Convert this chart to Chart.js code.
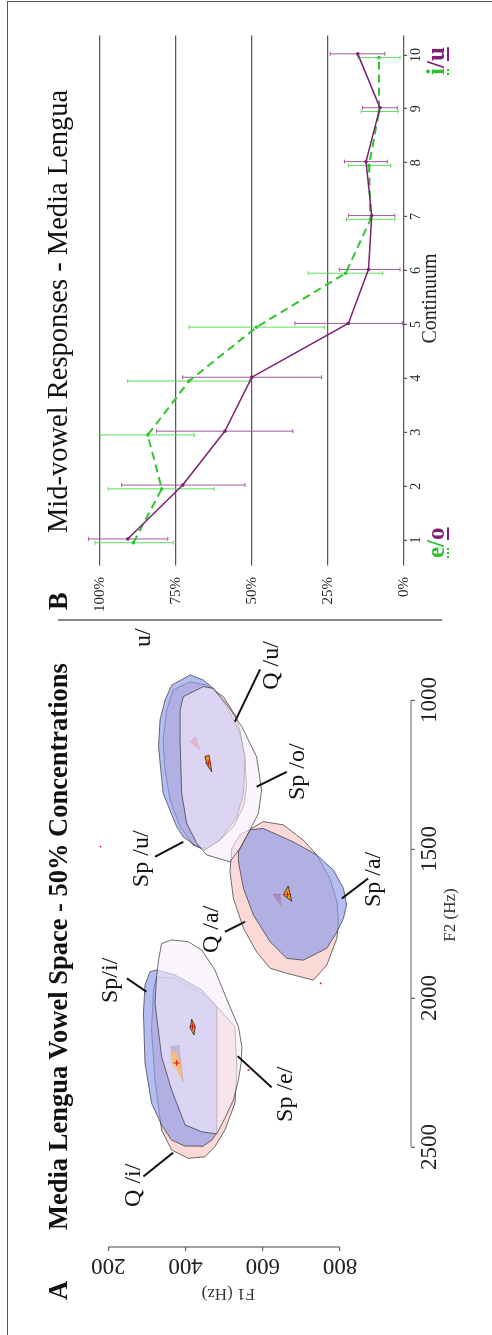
<!DOCTYPE html>
<html>
<head>
<meta charset="utf-8">
<title>Media Lengua vowel space and mid-vowel responses</title>
<script src="https://cdn.jsdelivr.net/npm/chart.js@4.4.1/dist/chart.umd.min.js"></script>
<style>
  html, body { margin:0; padding:0; background:#fff; width:492px; height:1335px; overflow:hidden; }
  #land { position:absolute; left:0; top:0; width:1335px; height:492px; transform-origin:0 0;
          transform:translateY(1335px) rotate(-90deg); background:#fff;
          font-family:"Liberation Serif","Times New Roman",serif; color:#111; }
  .frame { position:absolute; left:-10px; top:6.5px; width:1343.5px; height:520px;
           border-top:1.5px solid #555; border-right:1.5px solid #555; box-sizing:border-box; }
  .divider { position:absolute; left:714px; top:58px; width:1.5px; height:384px; background:#888; }
  .txt { position:absolute; white-space:nowrap; line-height:1; }
  canvas { position:absolute; top:0; }
  .dot { text-decoration-line:underline; text-decoration-style:dotted; text-decoration-thickness:2px; text-underline-offset:3px; }
  .sol { text-decoration-line:underline; text-decoration-style:solid; text-decoration-thickness:2px; text-underline-offset:3px; }
</style>
</head>
<body>
<div id="land">
  <div class="frame"></div>
  <div class="divider"></div>
  <canvas id="cA" width="760" height="492" style="left:0;width:760px;height:492px"></canvas>
  <canvas id="cB" width="620" height="492" style="left:715px;width:620px;height:492px"></canvas>

  <div class="txt" style="left:35px;top:44.8px;font-size:26.5px;font-weight:bold">A</div>
  <div class="txt" style="left:105px;top:44.8px;font-size:26.5px;font-weight:bold">Media Lengua Vowel Space - 50% Concentrations</div>
  <div class="txt" style="left:725px;top:44.8px;font-size:26.5px;font-weight:bold">B</div>
  <div class="txt" style="left:802px;top:44.1px;font-size:28.5px;">Mid-vowel Responses - Media Lengua</div>

  <div class="txt" style="left:777px;top:423px;font-size:25px;font-weight:bold">
    <span class="dot" style="color:#2fbf2f;text-decoration-color:#2fbf2f">e</span><span style="color:#2fbf2f">/</span><span class="sol" style="color:#7d1f72;text-decoration-color:#7d1f72">o</span>
  </div>
  <div class="txt" style="left:1260px;top:423px;font-size:25px;font-weight:bold">
    <span class="dot" style="color:#2fbf2f;text-decoration-color:#2fbf2f">i</span><span style="color:#7d1f72">/</span><span class="sol" style="color:#7d1f72;text-decoration-color:#7d1f72">u</span>
  </div>
</div>

<script>
const SERIF = '"Liberation Serif", "Times New Roman", serif';

// ================= Panel A data (F2 Hz, F1 Hz) =================
const F2_TICKS = [1000, 1500, 2000, 2500];
const F1_TICKS = [200, 400, 600, 800];

// Quichua (Q) 50% regions
const Q_I = [[1929,325],[1934,373],[1984,442],[2029,481],[2096,528],[2242,533],[2353,528],[2443,502],[2499,476],[2533,450],[2538,407],[2510,364],[2443,338],[2275,321],[2107,312],[1973,317]];
const Q_A = [[1431,571],[1408,601],[1419,653],[1470,705],[1520,740],[1599,774],[1677,792],[1744,796],[1800,792],[1889,766],[1940,731],[1917,662],[1900,619],[1845,584],[1766,550],[1666,524],[1576,515],[1498,520],[1453,541]];
const Q_U = [[966,368],[939,412],[950,455],[989,498],[1050,528],[1101,541],[1201,554],[1291,558],[1358,550],[1425,524],[1470,489],[1498,455],[1487,420],[1425,386],[1336,360],[1235,347],[1134,342],[1034,351]];
// Spanish (Sp) 50% regions
const SP_I = [[1912,308],[1906,325],[1923,373],[1973,442],[2029,481],[2453,481],[2477,468],[2500,442],[2497,399],[2477,364],[2426,338],[2353,312],[2218,295],[2050,291],[1956,295]];
const SP_A = [[1509,537],[1436,567],[1431,601],[1476,679],[1520,740],[1571,783],[1632,809],[1688,817],[1733,809],[1778,792],[1833,766],[1873,705],[1867,662],[1811,619],[1722,576],[1632,550],[1543,537]];
const SP_U = [[950,364],[916,412],[933,446],[961,472],[1022,507],[1111,541],[1190,554],[1313,550],[1392,533],[1470,489],[1503,450],[1492,429],[1459,394],[1425,377],[1313,342],[1157,330],[1067,334],[1000,347]];
const SP_E = [[1817,338],[1805,364],[1811,407],[1839,442],[1906,476],[2017,511],[2096,537],[2164,546],[2218,544],[2275,537],[2342,524],[2403,502],[2456,481],[2449,442],[2426,399],[2309,364],[2197,338],[2017,321],[1929,325],[1873,330]];
const SP_O = [[989,394],[955,446],[961,472],[1022,511],[1090,546],[1190,584],[1302,597],[1380,589],[1436,567],[1497,541],[1543,515],[1520,455],[1481,429],[1414,403],[1313,390],[1145,386],[1034,386]];
// Media Lengua small 50% regions
const ML_I_PALE = [[2164,360],[2158,383],[2281,394]];
const ML_I_BLOB = [[2185,362],[2177,373],[2208,386],[2275,393],[2242,377],[2218,364]];
const ML_I_CORE = [[2071,416],[2096,425],[2124,422],[2101,412]];
const ML_U_PALE = [[1140,412],[1123,425],[1168,438]];
const ML_U_CORE = [[1190,450],[1185,461],[1241,468],[1218,456]];
const ML_A_PALE = [[1654,627],[1652,645],[1690,647]];
const ML_A_CORE = [[1654,653],[1624,666],[1675,675]];
const ML_MEANS = [[2218,377],[2096,418],[1212,459],[1653,664]];
const STRAY = [[1492,180],[1951,750],[2242,563]];

// labels with leader lines (data coordinates)
const A_LABELS = [
  {text:'Q /i/',  at:[2701,282], lead:[[2599,291],[2519,368]]},
  {text:'Sp /e/', at:[2416,676], lead:[[2195,535],[2300,623]]},
  {text:'Sp/i/',  at:[2017,222], lead:[[1934,248],[1979,299]]},
  {text:'Q /a/',  at:[1849,485], lead:[[1778,502],[1744,554]]},
  {text:'Sp /u/', at:[1628,303], lead:[[1526,321],[1476,394]]},
  {text:'Sp /o/', at:[1336,707], lead:[[1291,584],[1241,662]]},
  {text:'Q /u/',  at:[966,640],  lead:[[1073,528],[897,593]]},
  {text:'Sp /a/', at:[1695,904], lead:[[1666,805],[1599,873]]},
  {text:'u/',     at:[822,308]}
];

// ================= Panel B data =================
const CONTINUUM = [1,2,3,4,5,6,7,8,9,10];
const PCT_TICKS = [0,25,50,75,100];
const MID_O     = [90.9, 72.8, 58.9, 50.1, 18.3, 11.7, 10.6, 12.5, 7.9, 15.2];
const MID_O_LO  = [77.7, 52.3, 36.6, 27.1, 0.5, 1.3, 3.0, 5.5, 2.2, 6.3];
const MID_O_HI  = [103.8, 92.9, 81.4, 72.8, 35.9, 21.3, 18.3, 19.6, 13.6, 24.3];
const MID_E     = [89.0, 79.7, 84.3, 70.7, 48.5, 19.2, 11.0, 11.5, 8.2, 8.2];
const MID_E_LO  = [75.9, 62.4, 69.0, 50.7, 26.2, 7.0, 3.0, 4.4, 1.9, 1.3];
const MID_E_HI  = [101.6, 97.3, 100, 90.9, 70.7, 31.5, 18.9, 18.3, 14.1, 15.2];

// ================= styles =================
const PINK  = 'rgba(245,185,180,0.55)';
const BLUE  = 'rgba(140,155,235,0.65)';
const LIGHT = 'rgba(246,236,252,0.6)';
const EDGE  = 'rgba(55,55,55,0.9)';
const PURPLE = '#7d1f72', PURPLE_ERR = '#a05a98';
const GREEN = '#2fc42f', GREEN_ERR = '#5ede5e';

Chart.defaults.font.family = SERIF;

function poly(pts) {
  const d = pts.map(p => ({x:p[0], y:p[1]}));
  d.push({x:pts[0][0], y:pts[0][1]});
  return d;
}
function polyDS(pts, bg, edge, bw) {
  return {data: poly(pts), showLine:true, fill:'shape', backgroundColor:bg, borderColor:edge,
          borderWidth:bw, pointRadius:0, pointHoverRadius:0, tension:0};
}
const fixTicks = vals => (s => { s.ticks = vals.map(v => ({value:v})); });
const plain = v => String(v);

// R-style axis lines spanning only the tick range
const rAxes = {
  id:'rAxes',
  afterDraw(chart) {
    const cfg = chart.config.options._rAxes;
    if (!cfg) return;
    const {ctx, chartArea} = chart;
    ctx.save();
    ctx.strokeStyle = '#666'; ctx.lineWidth = 1.2;
    cfg.forEach(l => {
      const s = chart.scales[l.axis];
      ctx.beginPath();
      if (l.axis === 'x') {
        ctx.moveTo(s.getPixelForValue(l.from), chartArea.bottom);
        ctx.lineTo(s.getPixelForValue(l.to), chartArea.bottom);
      } else {
        ctx.moveTo(chartArea.left, s.getPixelForValue(l.from));
        ctx.lineTo(chartArea.left, s.getPixelForValue(l.to));
      }
      ctx.stroke();
    });
    ctx.restore();
  }
};

const annot = {
  id:'annot',
  afterDatasetsDraw(chart) {
    if (chart.canvas.id !== 'cA') return;
    const {ctx} = chart; const xs = chart.scales.x, ys = chart.scales.y;
    ctx.save();
    ctx.strokeStyle = '#111'; ctx.fillStyle = '#111'; ctx.lineWidth = 2;
    ctx.font = '24px ' + SERIF; ctx.textAlign = 'left'; ctx.textBaseline = 'alphabetic';
    A_LABELS.forEach(it => {
      if (it.lead) {
        ctx.beginPath();
        ctx.moveTo(xs.getPixelForValue(it.lead[0][0]), ys.getPixelForValue(it.lead[0][1]));
        ctx.lineTo(xs.getPixelForValue(it.lead[1][0]), ys.getPixelForValue(it.lead[1][1]));
        ctx.stroke();
      }
      ctx.fillText(it.text, xs.getPixelForValue(it.at[0]), ys.getPixelForValue(it.at[1]));
    });
    ctx.restore();
  }
};

// ---------- Chart A ----------
const layersA = [
  polyDS(Q_A, PINK, EDGE, 0.8), polyDS(Q_I, PINK, EDGE, 0.8), polyDS(Q_U, PINK, EDGE, 0.8),
  polyDS(SP_A, BLUE, EDGE, 0.8), polyDS(SP_I, BLUE, EDGE, 0.8), polyDS(SP_U, BLUE, EDGE, 0.8),
  polyDS(SP_E, LIGHT, EDGE, 0.8), polyDS(SP_O, LIGHT, EDGE, 0.8),
  polyDS(ML_I_PALE, 'rgba(170,140,190,0.4)', 'rgba(150,130,170,0.5)', 0.5),
  polyDS(ML_I_BLOB, 'rgba(248,190,120,0.85)', 'rgba(230,160,90,0.6)', 0.5),
  polyDS(ML_U_PALE, 'rgba(230,150,150,0.45)', 'rgba(200,140,140,0.5)', 0.5),
  polyDS(ML_A_PALE, 'rgba(170,120,170,0.6)', 'rgba(140,110,150,0.6)', 0.5),
  polyDS(ML_I_CORE, '#f09010', '#222', 0.8),
  polyDS(ML_U_CORE, '#f09010', '#222', 0.8),
  polyDS(ML_A_CORE, '#f5a010', '#222', 0.8),
  {data: ML_MEANS.map(p => ({x:p[0], y:p[1]})), pointStyle:'cross', pointRadius:3, borderColor:'#e41010', borderWidth:1, backgroundColor:'#e41010'},
  {data: STRAY.map(p => ({x:p[0], y:p[1]})), pointRadius:0.9, borderWidth:0, backgroundColor:'#e41010'}
];
layersA.forEach((d, i) => { d.order = layersA.length - i; });

new Chart(document.getElementById('cA'), {
  type:'scatter',
  data:{datasets: layersA},
  plugins:[rAxes, annot],
  options:{
    responsive:false, animation:false, events:[],
    layout:{padding:{left:0, right:8, top:45.6, bottom:0}},
    _rAxes:[{axis:'x', from:F2_TICKS[0], to:F2_TICKS[F2_TICKS.length-1]},
            {axis:'y', from:F1_TICKS[0], to:F1_TICKS[F1_TICKS.length-1]}],
    plugins:{legend:{display:false}, tooltip:{enabled:false}},
    scales:{
      x:{type:'linear', reverse:true, min:607.4, max:2835.6,
         afterBuildTicks: fixTicks(F2_TICKS),
         afterFit: s => { s.height = 81; },
         border:{display:false},
         grid:{drawOnChartArea:false, drawTicks:true, tickLength:4, color:'#666', lineWidth:1.2},
         ticks:{font:{family:SERIF, size:23}, color:'#222', padding:1, minRotation:0, maxRotation:0, autoSkip:false, callback: plain},
         title:{display:true, text:'F2 (Hz)', font:{family:SERIF, size:17}, color:'#333', padding:{top:0, bottom:31}}},
      y:{type:'linear', reverse:true, min:37.6, max:983.9,
         afterBuildTicks: fixTicks(F1_TICKS),
         afterFit: s => { s.width = 88; },
         border:{display:false},
         grid:{drawOnChartArea:false, drawTicks:true, tickLength:4, color:'#666', lineWidth:1.2},
         ticks:{font:{family:SERIF, size:23}, color:'#222', padding:-3, minRotation:90, maxRotation:90, crossAlign:'center', autoSkip:false, callback: plain},
         title:{display:true, text:'F1 (Hz)', font:{family:SERIF, size:17}, color:'#333', padding:{top:31, bottom:0}}}
    }
  }
});

// ---------- Chart B ----------
const errBars = {
  id:'errBars',
  beforeDatasetsDraw(chart) {
    if (chart.canvas.id !== 'cB') return;
    const {ctx} = chart; const xs = chart.scales.x, ys = chart.scales.y;
    const series = [
      {x: CONTINUUM.map(c => c + 0.02), lo: MID_O_LO, hi: MID_O_HI, color: PURPLE_ERR},
      {x: CONTINUUM.map(c => c - 0.05), lo: MID_E_LO, hi: MID_E_HI, color: GREEN_ERR}
    ];
    ctx.save();
    ctx.lineWidth = 1;
    series.forEach(s => {
      ctx.strokeStyle = s.color;
      s.x.forEach((xv, i) => {
        const px = xs.getPixelForValue(xv);
        const y1 = ys.getPixelForValue(s.lo[i]), y2 = ys.getPixelForValue(s.hi[i]);
        ctx.beginPath();
        ctx.moveTo(px, y1); ctx.lineTo(px, y2);
        ctx.moveTo(px - 2, y1); ctx.lineTo(px + 2, y1);
        ctx.moveTo(px - 2, y2); ctx.lineTo(px + 2, y2);
        ctx.stroke();
      });
    });
    ctx.restore();
  }
};

new Chart(document.getElementById('cB'), {
  type:'scatter',
  data:{datasets:[
    {data: CONTINUUM.map((c, i) => ({x:c + 0.02, y:MID_O[i]})), showLine:true, fill:false,
     borderColor:PURPLE, borderWidth:1.5, pointRadius:1.8, pointBackgroundColor:PURPLE, pointBorderWidth:0, tension:0},
    {data: CONTINUUM.map((c, i) => ({x:c - 0.05, y:MID_E[i]})), showLine:true, fill:false,
     borderColor:GREEN, borderWidth:2, borderDash:[8,5], pointRadius:1.8, pointBackgroundColor:GREEN, pointBorderWidth:0, tension:0}
  ]},
  plugins:[errBars],
  options:{
    responsive:false, animation:false, events:[],
    layout:{padding:{left:0, right:35.5, top:75.7, bottom:0}},
    plugins:{legend:{display:false}, tooltip:{enabled:false}},
    scales:{
      x:{type:'linear', min:0.6, max:10.36,
         afterBuildTicks: fixTicks(CONTINUUM),
         afterFit: s => { s.height = 88; },
         border:{display:false},
         grid:{drawOnChartArea:false, drawTicks:true, tickLength:3, color:'#555', lineWidth:1.2},
         ticks:{font:{family:SERIF, size:14}, color:'#222', padding:1, minRotation:0, maxRotation:0, autoSkip:false, callback: plain},
         title:{display:true, text:'Continuum', font:{family:SERIF, size:20}, color:'#222', padding:{top:0, bottom:49}}},
      y:{type:'linear', min:0, max:108,
         afterBuildTicks: fixTicks(PCT_TICKS),
         afterFit: s => { s.width = 58.4; },
         border:{display:false},
         grid:{drawOnChartArea:true, drawTicks:true, tickLength:4, color:'#5a5a5a', lineWidth:1.2},
         ticks:{font:{family:SERIF, size:15}, color:'#222', padding:11.4, autoSkip:false,
                callback: v => v + '%'}}
    }
  }
});
</script>
</body>
</html>
